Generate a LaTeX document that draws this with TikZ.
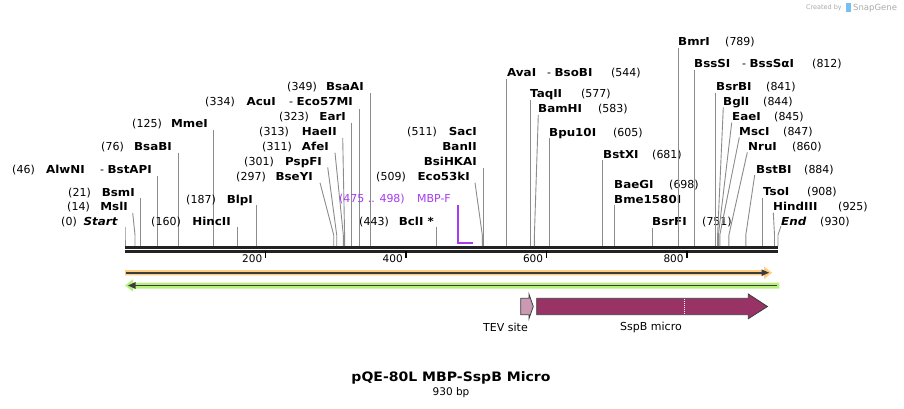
\documentclass[tikz,border=0pt]{standalone}
\usepackage{fontspec}
\setmainfont{DejaVu Sans}[BoldFeatures={FakeStretch=1.08},BoldItalicFeatures={FakeStretch=1.08}]
\definecolor{cutgray}{RGB}{140,140,140}
\definecolor{seqdark}{RGB}{34,34,34}
\definecolor{primpurple}{RGB}{166,60,240}
\definecolor{orangeF}{RGB}{255,204,128}
\definecolor{greenF}{RGB}{184,240,128}
\definecolor{darkarrow}{RGB}{60,60,60}
\definecolor{tevfill}{RGB}{204,153,178}
\definecolor{sspfill}{RGB}{153,51,102}
\definecolor{logogray}{RGB}{170,170,170}
\definecolor{logoblue}{RGB}{120,190,240}
\tikzset{
  lbl/.style={inner sep=0pt,font=\fontsize{11}{13}\selectfont},
  numlbl/.style={lbl},
  namlbl/.style={lbl,font=\fontsize{11}{13}\selectfont\bfseries},
  prim/.style={lbl,text=primpurple},
  cutline/.style={draw=cutgray,line width=0.9pt},
  primline/.style={draw=primpurple,line width=2pt},
  seq/.style={draw=seqdark,line width=2.7pt},
  tickmark/.style={draw=black,line width=1.5pt},
  ticklbl/.style={inner sep=0pt,font=\fontsize{10.5}{12}\selectfont},
  featlbl/.style={inner sep=0pt,font=\fontsize{11}{13}\selectfont},
}
\newcommand\numL[4]{\node[numlbl,anchor=base east] (#1) at (#2,#3+4) {#4};}
\newcommand\namL[4]{\node[namlbl,anchor=base east] (#1) at (#2,#3+4) {#4};}
\newcommand\numR[4]{\node[numlbl,anchor=base west] (#1) at (#2,#3+4) {#4};}
\newcommand\namR[4]{\node[namlbl,anchor=base west] (#1) at (#2,#3+4) {#4};}
\newcommand\cutln[4]{%
  \coordinate (#1a) at (#2,#3);
  \coordinate (#1b) at (#4,235);
  \coordinate (#1s) at (#4,246);
  \draw[cutline] (#1a) -- (#1b) -- (#1s);}
\begin{document}
\begin{tikzpicture}[x=1pt,y=-1pt]
\useasboundingbox (0,0) rectangle (904,409);
\fill[white] (0,0) rectangle (904,409);

% logo
\node[inner sep=0pt,anchor=base east,text=logogray,font=\fontsize{6.5}{7}\selectfont] (cby) at (842,10) {Created by};
\fill[logoblue] (846,3) rectangle (850.5,12.5);
\node[inner sep=0pt,anchor=base west,text=logogray,font=\fontsize{8.5}{9}\selectfont] (sg) at (853,10.5) {SnapGene};

% sequence line
\coordinate (seqL1) at (125,247.3); \coordinate (seqR1) at (778,247.3);
\coordinate (seqL2) at (125,251.4); \coordinate (seqR2) at (778,251.4);
\draw[seq] (seqL1) -- (seqR1);
\draw[seq] (seqL2) -- (seqR2);

% ticks
\foreach \x/\t in {265.4/200,405.9/400,546.3/600,686.8/800}{
  \draw[tickmark] (\x,251) -- (\x,257.5);
  \node[ticklbl,anchor=base east] at (\x-3,262.5) {\t};
}

% ---- left-side labels
\numL{n0}{77}{221.7}{(0)} \namL{m0}{118}{221.7}{\textit{Start}} \cutln{c0}{125}{226.7}{125}
\numL{n14}{90}{206.7}{(14)} \namL{m14}{128}{206.7}{MslI} \cutln{c14}{132.7}{213}{135}
\numL{n21}{91}{192}{(21)} \namL{m21}{135}{192}{BsmI} \cutln{c21}{140.3}{198}{140.3}
\numL{n46}{35}{169}{(46)} \namL{m46}{85}{169}{AlwNI}
\node[lbl,anchor=base east] (m46b) at (152,173) {- \textbf{BstAPI}};
\cutln{c46}{157.3}{176}{157.3}
\numL{n76}{124}{146.7}{(76)} \namL{m76}{172}{146.7}{BsaBI} \cutln{c76}{178.7}{152.7}{178.7}
\numL{n125}{162}{124}{(125)} \namL{m125}{208}{124}{MmeI} \cutln{c125}{213.3}{130}{213.3}
\numL{n160}{181}{221.7}{(160)} \namL{m160}{231}{221.7}{HincII} \cutln{c160}{237.3}{226.7}{237.3}
\numL{n187}{216}{199.3}{(187)} \namL{m187}{253}{199.3}{BlpI} \cutln{c187}{256.3}{205}{256.3}
\numL{n297}{266}{176.7}{(297)} \namL{m297}{313}{176.7}{BseYI} \cutln{c297}{320}{182.7}{333.7}
\numL{n301}{274}{161.7}{(301)} \namL{m301}{322}{161.7}{PspFI} \cutln{c301}{327.7}{167.3}{336.7}
\numL{n311}{292}{146.7}{(311)} \namL{m311}{329}{146.7}{AfeI} \cutln{c311}{335}{152.7}{343.3}
\numL{n313}{289}{131.7}{(313)} \namL{m313}{337}{131.7}{HaeII} \cutln{c313}{342.7}{138}{344.6}
\numL{n323}{309}{116.7}{(323)} \namL{m323}{346}{116.7}{EarI} \cutln{c323}{351.7}{122.7}{351.7}
\numL{n334}{235}{102}{(334)} \namL{m334}{276}{102}{AcuI}
\node[lbl,anchor=base east] (m334b) at (353,106) {- \textbf{Eco57MI}};
\cutln{c334}{359.3}{109.3}{359.3}
\numL{n349}{317}{86.7}{(349)} \namL{m349}{364}{86.7}{BsaAI} \cutln{c349}{370.3}{93.3}{370.3}
\numL{n443}{389}{221.7}{(443)} \namL{m443}{434}{221.7}{BclI *} \cutln{c443}{436.3}{226.7}{436.3}

% primer
\node[prim,anchor=base east] (p1) at (405,202.3) {(475 .. 498)};
\node[prim,anchor=base east] (p2) at (451,202.3) {MBP-F};
\coordinate (pa) at (457.7,205); \coordinate (pb) at (457.7,243.3); \coordinate (pc) at (473.3,243.3);
\draw[primline] (pa) -- (pb) -- (pc);

\numL{n509}{406}{176.7}{(509)} \namL{m509}{470}{176.7}{Eco53kI} \cutln{c509}{475}{182.7}{482.3}
\namL{mbsi}{477}{161.7}{BsiHKAI}
\namL{mban}{477}{146.7}{BanII}
\numL{n511}{437}{131.7}{(511)} \namL{m511}{477}{131.7}{SacI} \cutln{c511}{483.3}{168}{483.3}

% ---- right-side labels
\namR{m544}{507}{72.3}{AvaI}
\node[lbl,anchor=base west] (m544b) at (547,76.3) {- \textbf{BsoBI}};
\numR{n544}{611}{72.3}{(544)} \cutln{c544}{506.7}{79.3}{506.7}
\namR{m577}{530}{94}{TaqII} \numR{n577}{581}{94}{(577)} \cutln{c577}{530.7}{100}{530.7}
\namR{m583}{538}{109}{BamHI} \numR{n583}{598}{109}{(583)} \cutln{c583}{538.3}{115}{534.4}
\namR{m605}{549}{132.3}{Bpu10I} \numR{n605}{613}{132.3}{(605)} \cutln{c605}{549.3}{138.3}{549.3}
\namR{m681}{603}{154.3}{BstXI} \numR{n681}{652}{154.3}{(681)} \cutln{c681}{602.7}{160}{602.7}
\namR{m698}{614}{184}{BaeGI} \numR{n698}{669}{184}{(698)}
\namR{mbme}{614}{199}{Bme1580I} \cutln{c698}{614.3}{205}{614.3}
\namR{m751}{652}{221.7}{BsrFI} \numR{n751}{702}{221.7}{(751)} \cutln{c751}{652.3}{228}{652.3}
\namR{m789}{678}{41.7}{BmrI} \numR{n789}{725}{41.7}{(789)} \cutln{c789}{678.3}{48.3}{678.3}
\namR{m812}{694}{63.3}{BssSI}
\node[lbl,anchor=base west] (m812b) at (742,67.3) {- \textbf{BssSαI}};
\numR{n812}{812}{63.3}{(812)} \cutln{c812}{694.3}{70}{694.3}
\namR{m841}{716}{86.7}{BsrBI} \numR{n841}{766}{86.7}{(841)} \cutln{c841}{715.7}{92.7}{715.7}
\namR{m844}{723}{101.7}{BglI} \numR{n844}{763}{101.7}{(844)} \cutln{c844}{723.3}{107.3}{717.6}
\namR{m845}{732}{116.7}{EaeI} \numR{n845}{774}{116.7}{(845)} \cutln{c845}{731.7}{122.7}{718.4}
\namR{m847}{739}{131.7}{MscI} \numR{n847}{783}{131.7}{(847)} \cutln{c847}{739.3}{137.3}{719.8}
\namR{m860}{748}{146.7}{NruI} \numR{n860}{792}{146.7}{(860)} \cutln{c860}{747.3}{152.3}{728.9}
\namR{m884}{756}{169}{BstBI} \numR{n884}{804}{169}{(884)} \cutln{c884}{754.7}{175}{745.8}
\namR{m908}{763}{191.7}{TsoI} \numR{n908}{807}{191.7}{(908)} \cutln{c908}{762.7}{197.7}{762.7}
\namR{m925}{773}{206.7}{HindIII} \numR{n925}{838}{206.7}{(925)} \cutln{c925}{773.3}{212.7}{774.5}
\namR{m930}{781}{221.7}{\textit{End}} \numR{n930}{820}{221.7}{(930)} \cutln{c930}{781}{226}{778}

% ---- features
% orange (forward)
\fill[orangeF] (125,270) -- (764,270) -- (764,266.5) -- (772,272.7) -- (764,279) -- (764,275.4) -- (125,275.4) -- cycle;
\draw[darkarrow,line width=1.7pt] (125.5,272.7) -- (763,272.7);
\fill[darkarrow] (761.5,269.3) -- (769,272.7) -- (761.5,276.1) -- cycle;
% green (reverse)
\fill[greenF] (779.3,282.5) -- (133,282.5) -- (133,279.3) -- (125,285.5) -- (133,291.7) -- (133,288.5) -- (779.3,288.5) -- cycle;
\draw[darkarrow,line width=1.7pt] (134,285.5) -- (776.5,285.5);
\fill[darkarrow] (135.5,282.1) -- (128,285.5) -- (135.5,288.9) -- cycle;

% TEV site
\draw[fill=tevfill,draw=darkarrow,line width=0.8pt] (520.7,298.3) -- (529,298.3) -- (529,294.2) -- (533.3,306.5) -- (529,318.5) -- (529,314.7) -- (520.7,314.7) -- cycle;
\node[featlbl] (tev) at (505.5,327.5) {TEV site};
% SspB micro
\draw[fill=sspfill,draw=darkarrow,line width=0.8pt] (536.7,298.3) -- (748.3,298.3) -- (748.3,294) -- (767.5,306.5) -- (748.3,318.7) -- (748.3,314.7) -- (536.7,314.7) -- cycle;
\draw[white,line width=1pt,dash pattern=on 1pt off 1pt] (684,298.8) -- (684,314.2);
\node[featlbl] (ssp) at (651,327.5) {SspB micro};

% title
\node[inner sep=0pt,font=\fontsize{13}{15}\selectfont\bfseries] (title) at (451,378) {pQE-80L MBP-SspB Micro};
\node[inner sep=0pt,font=\fontsize{10.5}{12}\selectfont] (bp) at (451,393) {930 bp};
\end{tikzpicture}
\end{document}
